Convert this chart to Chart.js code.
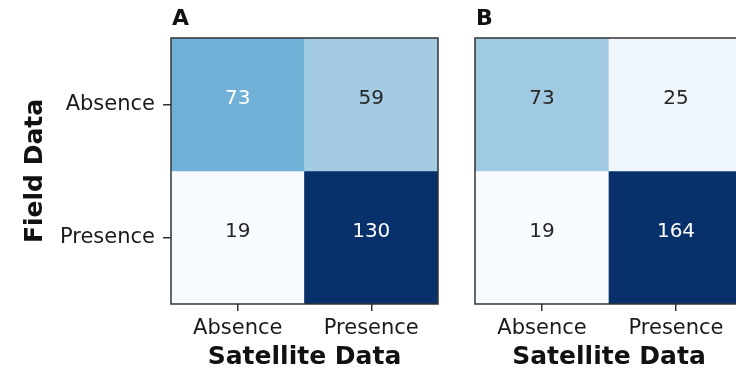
<!DOCTYPE html>
<html>
<head>
<meta charset="utf-8">
<script src="https://cdn.jsdelivr.net/npm/chart.js@4"></script>
<style>
  html, body { margin: 0; padding: 0; background: #fff; overflow: hidden; width: 736px; height: 375px; }
  canvas { position: absolute; top: 0; }
  #panelA { left: 0; }
  #panelB { left: 460px; }
</style>
</head>
<body>
<canvas id="panelA" width="460" height="375"></canvas>
<canvas id="panelB" width="420" height="375"></canvas>
<script>
// Confusion matrices: rows = field observation, columns = satellite classification
const satelliteClasses = ['Absence', 'Presence'];
const fieldClasses = ['Absence', 'Presence'];
const countsA = [[73, 59], [19, 130]];
const countsB = [[73, 25], [19, 164]];
const panelLetters = ['A', 'B'];

const FONT = "'DejaVu Sans', sans-serif";
const BLUES = ['#f7fbff', '#deebf7', '#c6dbef', '#9ecae1', '#6baed6', '#4292c6', '#2171b5', '#08519c', '#08306b'];

function hexToRgb(h) {
  const n = parseInt(h.slice(1), 16);
  return [(n >> 16) & 255, (n >> 8) & 255, n & 255];
}
function blues(t) {
  t = Math.max(0, Math.min(1, t));
  const s = t * (BLUES.length - 1);
  const i = Math.min(Math.floor(s), BLUES.length - 2);
  const f = s - i;
  const a = hexToRgb(BLUES[i]), b = hexToRgb(BLUES[i + 1]);
  const c = a.map((v, k) => Math.round(v + (b[k] - v) * f));
  return `rgb(${c[0]},${c[1]},${c[2]})`;
}

// Draws the count inside each cell, white on dark cells
const cellLabels = {
  id: 'cellLabels',
  afterDatasetsDraw(chart) {
    const { ctx } = chart;
    const counts = chart.options.plugins.cellLabels.counts;
    const max = Math.max(...counts.flat());
    ctx.save();
    ctx.font = `20px ${FONT}`;
    ctx.textAlign = 'center';
    ctx.textBaseline = 'middle';
    chart.data.datasets.forEach((ds, r) => {
      chart.getDatasetMeta(r).data.forEach((bar, c) => {
        const v = counts[r][c];
        ctx.fillStyle = v > max / 2 ? '#ffffff' : '#262626';
        ctx.fillText(String(v), bar.x, (bar.y + bar.base) / 2 - 6);
      });
    });
    ctx.restore();
  }
};

// Frame around the plot area and the panel letter above it
const frame = {
  id: 'frame',
  afterDraw(chart) {
    const { ctx, chartArea: a } = chart;
    ctx.save();
    ctx.strokeStyle = '#333333';
    ctx.lineWidth = 1.5;
    ctx.strokeRect(a.left, a.top, a.right - a.left, a.bottom - a.top);
    ctx.fillStyle = '#111111';
    ctx.font = `bold 22px ${FONT}`;
    ctx.textAlign = 'left';
    ctx.textBaseline = 'alphabetic';
    ctx.fillText(chart.options.plugins.frame.letter, a.left + 1, 25);
    ctx.restore();
  }
};

function makePanel(canvasId, counts, letter, showY, padLeft, padRight) {
  const flat = counts.flat();
  const lo = Math.min(...flat), hi = Math.max(...flat);
  const datasets = fieldClasses.map((name, r) => ({
    label: name,
    data: satelliteClasses.map(() => [r, r + 1]),
    backgroundColor: counts[r].map(v => blues((v - lo) / (hi - lo))),
    borderWidth: 0,
    barPercentage: 1,
    categoryPercentage: 1,
    grouped: false
  }));
  return new Chart(document.getElementById(canvasId), {
    type: 'bar',
    data: { labels: satelliteClasses, datasets },
    options: {
      responsive: false,
      animation: false,
      layout: { padding: { top: 38, right: padRight, left: padLeft, bottom: 0 } },
      plugins: {
        legend: { display: false },
        tooltip: { enabled: false },
        cellLabels: { counts },
        frame: { letter }
      },
      scales: {
        x: {
          type: 'category',
          offset: true,
          grid: { display: true, offset: false, drawOnChartArea: false, drawTicks: true, tickLength: 7, color: '#333333', lineWidth: 1.5 },
          border: { display: false },
          ticks: { color: '#1a1a1a', font: { family: FONT, size: 21 }, padding: 5, maxRotation: 0 },
          title: { display: true, text: 'Satellite Data', color: '#111111', font: { family: FONT, size: 25, weight: 'bold' }, padding: { top: 0, bottom: 3 } },
          afterFit: s => { s.height = 71; }
        },
        y: {
          type: 'linear',
          display: showY,
          min: 0,
          max: fieldClasses.length,
          reverse: true,
          afterBuildTicks: s => { s.ticks = fieldClasses.map((_, i) => ({ value: i + 0.5 })); },
          grid: { display: true, drawOnChartArea: false, drawTicks: true, tickLength: 8, color: '#333333', lineWidth: 1.5 },
          border: { display: false },
          ticks: { color: '#1a1a1a', font: { family: FONT, size: 21 }, padding: 8, callback: (v, i) => fieldClasses[i] },
          title: { display: true, text: 'Field Data', color: '#111111', font: { family: FONT, size: 25, weight: 'bold' }, padding: { top: 20, bottom: 0 } },
          afterFit: s => { s.width = showY ? 171 : 0; }
        }
      }
    },
    plugins: [cellLabels, frame]
  });
}

makePanel('panelA', countsA, panelLetters[0], true, 0, 22);
// Panel B runs past the right edge of the page
makePanel('panelB', countsB, panelLetters[1], false, 15, 137);
</script>
</body>
</html>
